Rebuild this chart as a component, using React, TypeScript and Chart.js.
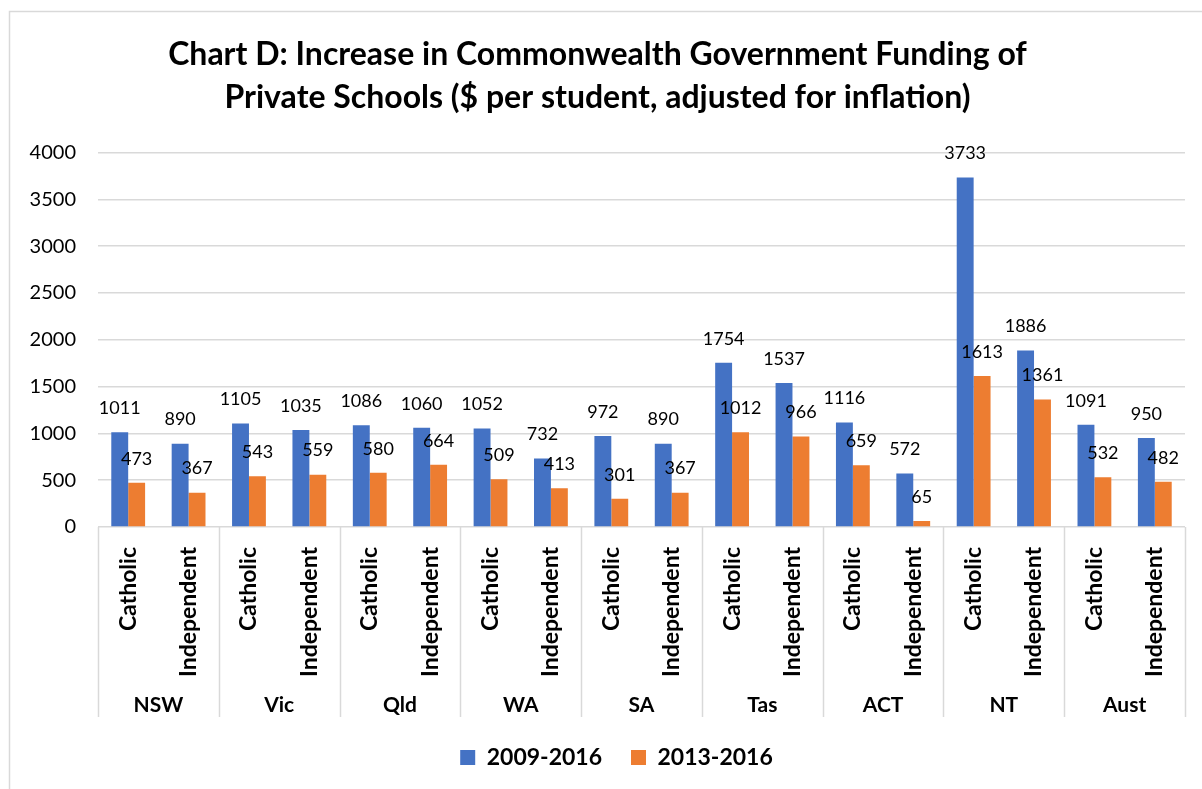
import React, { useEffect, useRef } from "react";
import { Chart, registerables } from "chart.js";

Chart.register(...registerables);

const TITLE_LINES = [
  "Chart D: Increase in Commonwealth Government Funding of",
  "Private Schools ($ per student, adjusted for inflation)",
];
const GROUPS = ["NSW", "Vic", "Qld", "WA", "SA", "Tas", "ACT", "NT", "Aust"];
const SECTORS = ["Catholic", "Independent"];
const CATEGORIES = GROUPS.flatMap(() => SECTORS);
const SERIES_NAMES = ["2009-2016", "2013-2016"];
const SERIES_2009 = [1011, 890, 1105, 1035, 1086, 1060, 1052, 732, 972, 890, 1754, 1537, 1116, 572, 3733, 1886, 1091, 950];
const SERIES_2013 = [473, 367, 543, 559, 580, 664, 509, 413, 301, 367, 1012, 966, 659, 65, 1613, 1361, 532, 482];
const Y_MAX = 4000;
const Y_STEP = 500;

const FONT = "Lato, 'Open Sans', sans-serif";

const framePlugin = {
  id: "frame",
  beforeDraw(chart: any) {
    const { ctx, width, height } = chart;
    ctx.save();
    ctx.fillStyle = "#ffffff";
    ctx.fillRect(0, 0, width, height);
    ctx.strokeStyle = "#d9d9d9";
    ctx.lineWidth = 1.5;
    ctx.strokeRect(9.5, 11.5, width + 20, height + 20);
    ctx.restore();
  },
};

const legendShiftPlugin = {
  id: "legendShift",
  afterLayout(chart: any) {
    if (chart.legend) {
      chart.legend.left += 19;
      chart.legend.right += 19;
    }
  },
};

const labelsPlugin = {
  id: "barLabels",
  afterDatasetsDraw(chart: any) {
    const { ctx } = chart;
    ctx.save();
    ctx.font = `18px ${FONT}`;
    ctx.fillStyle = "#000000";
    ctx.textAlign = "center";
    ctx.textBaseline = "middle";
    chart.data.datasets.forEach((ds: any, di: number) => {
      const meta = chart.getDatasetMeta(di);
      meta.data.forEach((el: any, i: number) => {
        ctx.fillText(String(ds.data[i]), el.x, el.y - 24);
      });
    });
    ctx.restore();
  },
};

const groupAxisPlugin = {
  id: "groupAxis",
  afterDraw(chart: any) {
    const { ctx } = chart;
    const x = chart.scales.x;
    const top = chart.chartArea.bottom;
    const bottom = top + 190;
    const cat = (x.right - x.left) / CATEGORIES.length;
    ctx.save();
    ctx.strokeStyle = "#d9d9d9";
    ctx.lineWidth = 1.5;
    for (let g = 0; g <= GROUPS.length; g++) {
      const px = Math.round(x.left + g * 2 * cat) + 0.5;
      ctx.beginPath();
      ctx.moveTo(px, top);
      ctx.lineTo(px, bottom);
      ctx.stroke();
    }
    ctx.font = `bold 21px ${FONT}`;
    ctx.fillStyle = "#000000";
    ctx.textAlign = "center";
    ctx.textBaseline = "middle";
    GROUPS.forEach((g, i) => {
      const cx = x.left + (i * 2 + 1) * cat;
      ctx.fillText(g, cx, top + 178);
    });
    ctx.restore();
  },
};

export default function App() {
  const ref = useRef<HTMLCanvasElement | null>(null);
  useEffect(() => {
    if (!ref.current) return;
    const chart = new Chart(ref.current, {
      type: "bar",
      data: {
        labels: CATEGORIES,
        datasets: [
          {
            label: SERIES_NAMES[0],
            data: SERIES_2009,
            backgroundColor: "#4472C4",
            categoryPercentage: 0.56,
            barPercentage: 1,
          },
          {
            label: SERIES_NAMES[1],
            data: SERIES_2013,
            backgroundColor: "#ED7D31",
            categoryPercentage: 0.56,
            barPercentage: 1,
          },
        ],
      },
      options: {
        responsive: false,
        animation: false,
        layout: { padding: { left: 10, right: 17, top: 0, bottom: 10 } },
        plugins: {
          title: {
            display: true,
            text: TITLE_LINES,
            color: "#000000",
            font: { family: FONT, size: 32, weight: "bold", lineHeight: 1.32 },
            padding: { top: 34, bottom: 34 },
          },
          legend: {
            position: "bottom",
            labels: {
              color: "#000000",
              font: { family: FONT, size: 23, weight: "bold" },
              boxWidth: 15,
              boxHeight: 15,
              padding: 29,
            },
          },
          tooltip: { enabled: false },
        },
        scales: {
          x: {
            grid: { display: false },
            border: { display: false },
            ticks: {
              color: "#000000",
              font: { family: FONT, size: 23, weight: "bold" },
              minRotation: 90,
              maxRotation: 90,
              padding: 12,
              autoSkip: false,
            },
            afterFit: (axis: any) => {
              axis.height = 190;
            },
          },
          y: {
            min: 0,
            max: Y_MAX,
            ticks: {
              stepSize: Y_STEP,
              color: "#000000",
              font: { family: FONT, size: 20 },
              padding: 22,
              callback: (v: any) => String(v),
            },
            grid: { color: "#d9d9d9", lineWidth: 1.5, drawTicks: false },
            border: { display: false },
            afterFit: (axis: any) => {
              axis.width = 88;
            },
          },
        },
      },
      plugins: [framePlugin, legendShiftPlugin, labelsPlugin, groupAxisPlugin],
    });
    return () => chart.destroy();
  }, []);
  return (
    <div style={{ position: "absolute", left: 0, top: 0, width: 1202, height: 789 }}>
      <canvas ref={ref} width={1202} height={789} style={{ display: "block" }} />
    </div>
  );
}
